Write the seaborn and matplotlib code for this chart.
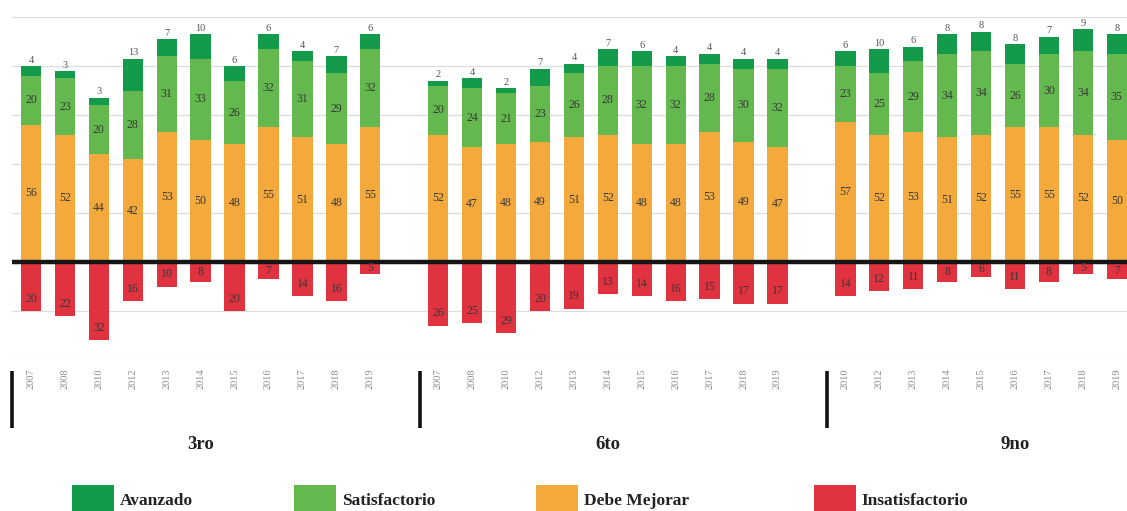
import numpy as np
import pandas as pd
import matplotlib
matplotlib.use('Agg')
import matplotlib.pyplot as plt
import matplotlib.transforms as mtransforms
from matplotlib.patches import Patch
import seaborn as sns

# grupos y años
grades = ['3ro', '6to', '9no']
years_3ro = ['2007', '2008', '2010', '2012', '2013', '2014', '2015', '2016', '2017', '2018', '2019']
years_6to = ['2007', '2008', '2010', '2012', '2013', '2014', '2015', '2016', '2017', '2018', '2019']
years_9no = ['2010', '2012', '2013', '2014', '2015', '2016', '2017', '2018', '2019']

# porcentajes por nivel de logro
avanzado_3ro = [4, 3, 3, 13, 7, 10, 6, 6, 4, 7, 6]
satisf_3ro = [20, 23, 20, 28, 31, 33, 26, 32, 31, 29, 32]
mejorar_3ro = [56, 52, 44, 42, 53, 50, 48, 55, 51, 48, 55]
insatisf_3ro = [20, 22, 32, 16, 10, 8, 20, 7, 14, 16, 5]

avanzado_6to = [2, 4, 2, 7, 4, 7, 6, 4, 4, 4, 4]
satisf_6to = [20, 24, 21, 23, 26, 28, 32, 32, 28, 30, 32]
mejorar_6to = [52, 47, 48, 49, 51, 52, 48, 48, 53, 49, 47]
insatisf_6to = [26, 25, 29, 20, 19, 13, 14, 16, 15, 17, 17]

avanzado_9no = [6, 10, 6, 8, 8, 8, 7, 9, 8]
satisf_9no = [23, 25, 29, 34, 34, 26, 30, 34, 35]
mejorar_9no = [57, 52, 53, 51, 52, 55, 55, 52, 50]
insatisf_9no = [14, 12, 11, 8, 6, 11, 8, 5, 7]

levels = ['Avanzado', 'Satisfactorio', 'Debe Mejorar', 'Insatisfactorio']
colors = ['#139b4b', '#63b94d', '#f3a93c', '#e0323f']

# tabla larga con una fila por barra
rows = []
groups = [(years_3ro, avanzado_3ro, satisf_3ro, mejorar_3ro, insatisf_3ro),
          (years_6to, avanzado_6to, satisf_6to, mejorar_6to, insatisf_6to),
          (years_9no, avanzado_9no, satisf_9no, mejorar_9no, insatisf_9no)]
for g, (yrs, a, s, d, i) in enumerate(groups):
    for k in range(len(yrs)):
        rows.append({'grade': grades[g], 'year': yrs[k], 'pos': g * 12 + k,
                     'A': a[k], 'S': s[k], 'D': d[k], 'I': i[k]})
df = pd.DataFrame(rows)
df['top_A'] = df['D'] + df['S'] + df['A']
df['top_S'] = df['D'] + df['S']
df['neg_I'] = -df['I']

sns.set_theme(style='white')
plt.rcParams['font.family'] = ['Liberation Serif', 'DejaVu Serif']

fig = plt.figure(figsize=(11.27, 5.11), dpi=100)
ax = fig.add_axes([12 / 1127, 151 / 511, 1115 / 1127, 360 / 511])

# barras apiladas: se dibuja el total y se superponen los tramos inferiores
for col, c in zip(['top_A', 'top_S', 'D', 'neg_I'], colors):
    sns.barplot(data=df, x='pos', y=col, color=c, native_scale=True, width=0.6,
                saturation=1, errorbar=None, linewidth=0, ax=ax, zorder=3)

ax.set_xlim(-0.56, 32.3)
ax.set_ylim(-40, 107)
ax.set_yticks(range(-40, 101, 20))
ax.yaxis.grid(True, color='#dddddd', lw=0.9, zorder=0)
ax.tick_params(axis='y', labelleft=False, length=0)
ax.axhline(0, color='#151515', lw=3.2, zorder=5)
for sp in ax.spines.values():
    sp.set_visible(False)
ax.set_xlabel('')
ax.set_ylabel('')

ax.set_xticks(df['pos'])
ax.set_xticklabels(df['year'], rotation=90, fontsize=7.5, color='#8c8c8c')
ax.tick_params(axis='x', length=0, pad=6)

# etiquetas de valores
txt = dict(ha='center', va='center', fontsize=8.5, color='#383838', zorder=6)
for _, r in df.iterrows():
    ax.text(r['pos'], r['D'] / 2, str(r['D']), **txt)
    ax.text(r['pos'], r['D'] + r['S'] / 2, str(r['S']), **txt)
    ax.text(r['pos'], -max(r['I'] / 2, r['I'] - 5), str(r['I']), **txt)
    ax.text(r['pos'], r['top_A'] + 0.6, str(r['A']), ha='center', va='bottom',
            fontsize=7.5, color='#555555', zorder=6)

# separadores y nombres de grado bajo el eje
trans = mtransforms.blended_transform_factory(ax.transData, ax.transAxes)
for g, name in enumerate(grades):
    start = g * 12
    ax.plot([start - 0.55, start - 0.55], [-0.03, -0.19], color='#111111', lw=2.6,
            transform=trans, clip_on=False, solid_capstyle='butt')
    ax.text(start + 5.0, -0.235, name, transform=trans, ha='center', va='center',
            fontsize=13.5, fontweight='bold', color='#222222')

# leyenda
legend_x = [63, 285, 527, 805]
for lab, c, x in zip(levels, colors, legend_x):
    fig.legend(handles=[Patch(facecolor=c, edgecolor='none')], labels=[lab],
               loc='center left', bbox_to_anchor=(x / 1127 - 0.006, 11 / 511),
               frameon=False, handlelength=2.4, handleheight=2.2, handletextpad=0.35,
               prop={'weight': 'bold', 'size': 12.5}, labelcolor='#222222')

fig.savefig('out.png', dpi=100)
